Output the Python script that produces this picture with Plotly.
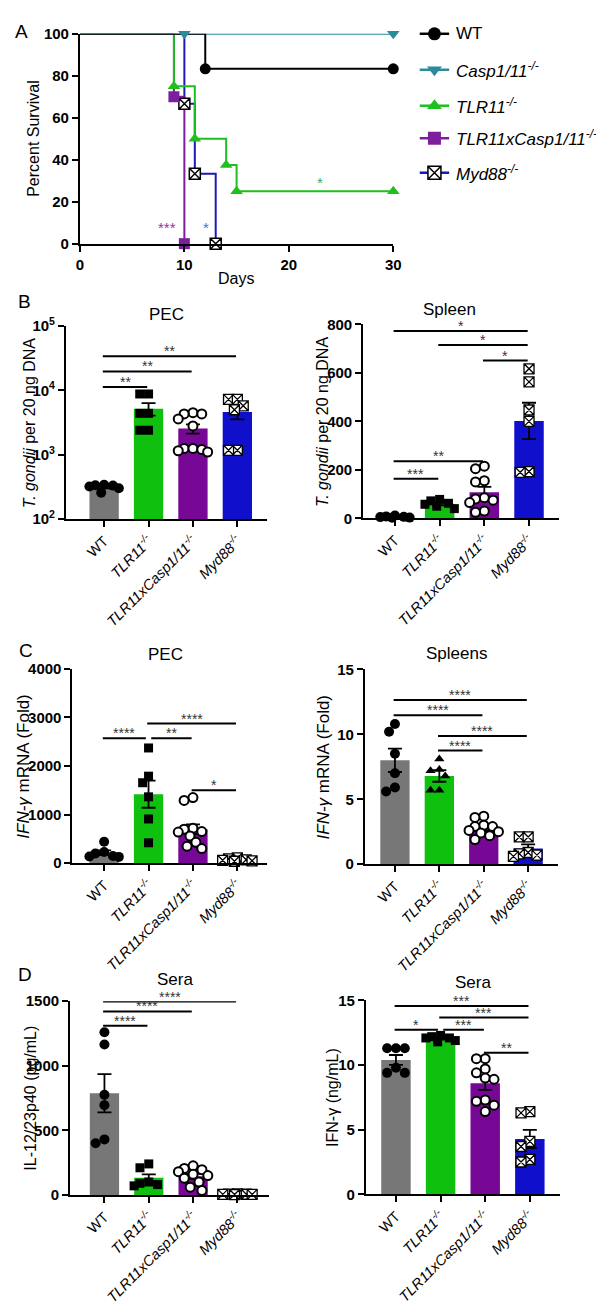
import numpy as np
import plotly.graph_objects as go

W, H = 604, 1304
FONT = "Liberation Sans, Arial, sans-serif"

# ---------------- Panel A: survival ----------------
surv_labels = ["WT", "<i>Casp1/11<sup>-/-</sup></i>", "<i>TLR11<sup>-/-</sup></i>",
               "<i>TLR11xCasp1/11<sup>-/-</sup></i>", "<i>Myd88<sup>-/-</sup></i>"]
surv_days = [[0, 12, 30], [0, 10, 30], [0, 9, 11, 14, 15, 30], [0, 9, 10], [0, 10, 11, 13]]
surv_pct = [[100, 83.3, 83.3], [100, 100, 100], [100, 75, 50, 37.5, 25, 25],
            [100, 70, 0], [100, 66.7, 33.3, 0]]
surv_stars = ["***", "*", "*"]
surv_star_day = [8.3, 12.1, 23.0]
surv_star_pct = [7.5, 7.5, 29.2]

# ---------------- bar panels (B, C, D) ----------------
bar_groups = ["WT", "<i>TLR11<sup>-/-</sup></i>", "<i>TLR11xCasp1/11<sup>-/-</sup></i>",
              "<i>Myd88<sup>-/-</sup></i>"]

pec_dna_pts = [[340, 335, 330, 320, 300, 255],
               [8800, 8800, 4400, 4400, 2400, 2400],
               [4500, 4300, 4300, 3600, 2800, 1250, 1250, 1200, 1150, 1100],
               [7250, 7250, 5760, 5000, 1170, 1170]]
pec_dna_mean = [313, 5200, 2550, 4600]
pec_dna_sem = [14, 1150, 420, 1050]
pec_dna_sig = [(0, 3, 33900, "**"), (0, 2, 19700, "**"), (0, 1, 11350, "**")]

spl_dna_pts = [[12, 8, 6, 5, 3, 2],
               [78, 72, 62, 58, 50, 40],
               [215, 205, 155, 150, 85, 80, 75, 65, 30, 25],
               [617, 563, 447, 400, 193, 190]]
spl_dna_mean = [6, 60, 108, 402]
spl_dna_sem = [1.5, 6, 22, 75]
spl_dna_sig = [(0, 3, 773, "*"), (1, 3, 715, "*"), (2, 3, 651, "*"),
               (0, 2, 236, "**"), (0, 1, 163, "***")]

pec_ifn_pts = [[440, 230, 200, 150, 140, 130],
               [2370, 1790, 1655, 1365, 910, 420],
               [1350, 1290, 720, 700, 650, 640, 560, 430, 350, 300],
               [110, 90, 70, 60, 50, 40]]
pec_ifn_mean = [215, 1420, 699, 70]
pec_ifn_sem = [50, 280, 100, 12]
pec_ifn_sig = [(1, 3, 2872, "****"), (0, 1, 2568, "****"), (1, 2, 2568, "**"),
               (2, 3, 1500, "*")]

spl_ifn_pts = [[10.8, 10.2, 8.5, 7.0, 5.9, 5.6],
               [8.1, 7.3, 7.2, 6.8, 5.7, 5.7],
               [3.7, 3.6, 3.0, 2.9, 2.9, 2.6, 2.5, 2.4, 2.2, 1.9],
               [2.1, 2.1, 0.9, 0.8, 0.7, 0.6]]
spl_ifn_mean = [8.0, 6.8, 2.77, 1.2]
spl_ifn_sem = [0.9, 0.45, 0.2, 0.33]
spl_ifn_sig = [(0, 3, 12.65, "****"), (0, 2, 11.46, "****"), (1, 3, 9.87, "****"),
               (1, 2, 8.75, "****")]

il12_pts = [[1260, 1165, 775, 695, 430, 400],
            [240, 210, 100, 90, 80, 70],
            [225, 205, 195, 180, 160, 150, 130, 100, 60, 35],
            [8, 6, 5, 4, 4, 3]]
il12_mean = [787, 132, 144, 5]
il12_sem = [148, 27, 20, 0.6]
il12_sig = [(0, 3, 1497, "****"), (0, 2, 1421, "****"), (0, 1, 1309, "****")]

ifn_sera_pts = [[11.3, 11.3, 11.3, 9.8, 9.4, 9.4],
                [12.3, 12.2, 12.1, 12.1, 11.9, 11.8],
                [10.5, 10.5, 9.7, 9.4, 9.0, 8.9, 7.3, 7.2, 6.9, 6.4],
                [6.4, 6.3, 4.1, 3.7, 2.7, 2.5]]
ifn_sera_mean = [10.4, 12.07, 8.6, 4.28]
ifn_sera_sem = [0.38, 0.1, 0.52, 0.7]
ifn_sera_sig = [(0, 3, 14.57, "***"), (1, 3, 13.68, "***"), (0, 1, 12.74, "*"),
                (1, 2, 12.74, "***"), (2, 3, 10.96, "**")]

bar_colors = ["#777777", "#0fc00f", "#770896", "#1010cc"]
pt_symbols = ["circle", "square", "circle", "square-x"]
pt_fill = ["black", "black", "white", "white"]
pt_line = [0, 0, 2, 1.3]
pt_size = [10, 9, 9, 10]

fig = go.Figure()
annotations = []
layout_axes = {}


def px(x):
    return x / W


def py(y):
    return 1 - y / H


def label(x, y, text, size, angle=0, xanchor="center", **kw):
    annotations.append(dict(x=px(x), y=py(y), xref="paper", yref="paper", text=text,
                            textangle=angle, xanchor=xanchor, yanchor="middle",
                            showarrow=False, font=dict(size=size, **kw)))


def ax_common():
    return dict(showline=True, linewidth=2, linecolor="black", ticks="outside",
                ticklen=6, tickwidth=2, tickcolor="black", showgrid=False,
                zeroline=False, fixedrange=True)


# ---- Panel A ----
a_line = ["black", "#2b8a9c", "#1fbf1f", "#7b1f9c", "#1a1ab4"]
a_sym = ["circle", "triangle-down", "triangle-up", "square", "square-x"]
a_fill = ["black", "#2b8a9c", "#1fbf1f", "#7b1f9c", "white"]
a_mline = [0, 0, 0, 0, 1.5]
a_order = [4, 3, 2, 1, 0]
for i in a_order:
    fig.add_trace(go.Scatter(x=surv_days[i], y=surv_pct[i], mode="lines",
                             line=dict(color=a_line[i], width=2, shape="hv"),
                             xaxis="x", yaxis="y", hoverinfo="skip"))
for i in a_order:
    fig.add_trace(go.Scatter(x=surv_days[i][1:], y=surv_pct[i][1:], mode="markers",
                             marker=dict(symbol=a_sym[i], size=11, color=a_fill[i],
                                         line=dict(color="black", width=a_mline[i])),
                             cliponaxis=False, xaxis="x", yaxis="y", hoverinfo="skip"))
star_cols = ["#8a3aa8", "#3a78d0", "#30b060"]
for s, d, p, c in zip(surv_stars, surv_star_day, surv_star_pct, star_cols):
    annotations.append(dict(x=d, y=p, xref="x", yref="y", text=s, showarrow=False,
                            font=dict(size=15, color=c)))
layout_axes["xaxis"] = dict(ax_common(), domain=[px(69.3), px(389)], range=[0, 30],
                            tickvals=[0, 10, 20, 30], anchor="y",
                            tickfont=dict(size=15, weight="bold"))
layout_axes["yaxis"] = dict(ax_common(), domain=[py(228), py(15)], range=[0, 100],
                            tickvals=[0, 20, 40, 60, 80, 100], anchor="x",
                            tickfont=dict(size=15, weight="bold"))
label(229, 263, "Days", 16)
label(22, 121, "Percent Survival", 16, angle=-90)

# legend for A, drawn on a pixel overlay axis
leg_x0, leg_x1 = 416, 446
leg_rows = [15, 51.5, 88, 121, 156]
for i in range(5):
    ly = leg_rows[i]
    fig.add_trace(go.Scatter(x=[leg_x0, leg_x1], y=[ly, ly], mode="lines",
                             line=dict(color=a_line[i], width=2.5),
                             xaxis="x8", yaxis="y8", hoverinfo="skip"))
    fig.add_trace(go.Scatter(x=[(leg_x0 + leg_x1) / 2], y=[ly], mode="markers",
                             marker=dict(symbol=a_sym[i], size=13, color=a_fill[i],
                                         line=dict(color="black", width=a_mline[i])),
                             xaxis="x8", yaxis="y8", hoverinfo="skip"))
    label(451, ly, surv_labels[i], 17, xanchor="left")
layout_axes["xaxis8"] = dict(domain=[0, 1], range=[0, W], visible=False, anchor="y8",
                             fixedrange=True)
layout_axes["yaxis8"] = dict(domain=[0, 1], range=[H, 0], visible=False, anchor="x8",
                             fixedrange=True)


def swarm(vals, ypix, d=8.6):
    order = np.argsort(vals)[::-1]
    cands = [0.0]
    for k in range(1, 6):
        cands += [-3.0 * k, 3.0 * k]
    placed = []
    offs = [0.0] * len(vals)
    for i in order:
        y = ypix(vals[i])
        best = None
        for c in cands:
            if all((c - a) ** 2 + (y - b) ** 2 >= d * d for a, b in placed):
                best = c
                break
        if best is None:
            best = max(cands, key=lambda c: min((c - a) ** 2 + (y - b) ** 2 for a, b in placed))
        placed.append((best, y))
        offs[i] = best
    return offs


def bar_panel(n, box, xr, yr, ylog, ytv, yttext, pts, means, sems, sig,
              title, title_xy, ytitle, ytitle_x, ytitle_size=16):
    x0, x1, ytop, ybot = box
    xa, ya = "x%d" % n, "y%d" % n
    hpx = ybot - ytop
    pcat = (x1 - x0) / (xr[1] - xr[0])

    def ypix(v):
        t = np.log10(v) if ylog else v
        return (t - yr[0]) / (yr[1] - yr[0]) * hpx

    fig.add_trace(go.Bar(x=[0, 1, 2, 3], y=means, width=0.66,
                         marker=dict(color=bar_colors, line=dict(width=0)),
                         error_y=dict(type="data", array=sems, color="black",
                                      thickness=1.8, width=7),
                         xaxis=xa, yaxis=ya, hoverinfo="skip"))
    for g in range(4):
        offs = swarm(pts[g], ypix)
        xs = [g + o / pcat for o in offs]
        sym = pt_symbols[g]
        if n == 5 and g == 1:
            sym = "triangle-up"
        fig.add_trace(go.Scatter(x=xs, y=pts[g], mode="markers", cliponaxis=False,
                                 marker=dict(symbol=sym, size=pt_size[g], color=pt_fill[g],
                                             line=dict(color="black", width=pt_line[g])),
                                 xaxis=xa, yaxis=ya, hoverinfo="skip"))
    for (i, j, v, s) in sig:
        same = [(a, b) for (a, b, w, _) in sig if abs(w - v) < 1e-9 and (a, b) != (i, j)]
        st = i + (0.06 if any(b == i for a, b in same) else -0.03)
        en = j - (0.06 if any(a == j for a, b in same) else 0.03)
        fig.add_trace(go.Scatter(x=[st, en], y=[v, v], mode="lines",
                                 line=dict(color="black", width=2), cliponaxis=False,
                                 xaxis=xa, yaxis=ya, hoverinfo="skip"))
        annotations.append(dict(x=(st + en) / 2, y=np.log10(v) if ylog else v,
                                xref=xa, yref=ya, text=s, showarrow=False,
                                xanchor="center", yanchor="middle", yshift=5,
                                font=dict(size=14, color="#333333")))
    layout_axes["xaxis%d" % n] = dict(ax_common(), domain=[px(x0), px(x1)], range=xr,
                                      tickvals=[0, 1, 2, 3], ticktext=bar_groups,
                                      tickangle=-45, anchor=ya,
                                      tickfont=dict(size=14.5))
    yax = dict(ax_common(), domain=[py(ybot), py(ytop)], range=yr, tickvals=ytv,
               anchor=xa, tickfont=dict(size=15, weight="bold"))
    if ylog:
        yax["type"] = "log"
    if yttext is not None:
        yax["ticktext"] = yttext
    layout_axes["yaxis%d" % n] = yax
    label(title_xy[0], title_xy[1], title, 17)
    label(ytitle_x, (ytop + ybot) / 2, ytitle, ytitle_size, angle=-90)


dna_title = "<i>T. gondii</i> per 20 ng DNA"
bar_panel(2, (55, 260, 311.7, 507.3), [-0.861, 3.664], [2, 5], True,
          [100, 1000, 10000, 100000],
          ["10<sup>2</sup>", "10<sup>3</sup>", "10<sup>4</sup>", "10<sup>5</sup>"],
          pec_dna_pts, pec_dna_mean, pec_dna_sem, pec_dna_sig,
          "PEC", (158, 300), dna_title, 18)
bar_panel(3, (358.3, 558, 310, 506.7), [-0.711, 3.669], [0, 800], False,
          [0, 200, 400, 600, 800], None,
          spl_dna_pts, spl_dna_mean, spl_dna_sem, spl_dna_sig,
          "Spleen", (446.7, 295), dna_title, 317)
bar_panel(4, (61.7, 260, 659.3, 856.7), [-0.713, 3.664], [0, 4000], False,
          [0, 1000, 2000, 3000, 4000], None,
          pec_ifn_pts, pec_ifn_mean, pec_ifn_sem, pec_ifn_sig,
          "PEC", (157, 645), "<i>IFN-γ</i> mRNA (Fold)", 12, 17)
bar_panel(5, (360, 557, 660, 857.7), [-0.678, 3.671], [0, 15], False,
          [0, 5, 10, 15], None,
          spl_ifn_pts, spl_ifn_mean, spl_ifn_sem, spl_ifn_sig,
          "Spleens", (454, 644), "<i>IFN-γ</i> mRNA (Fold)", 318, 17)
bar_panel(6, (59.3, 261.7, 996.7, 1193.3), [-0.774, 3.70], [0, 1500], False,
          [0, 500, 1000, 1500], None,
          il12_pts, il12_mean, il12_sem, il12_sig,
          "Sera", (166.7, 975), "IL-12/23p40 (pg/mL)", 18)
bar_panel(7, (361, 559.3, 996, 1192.7), [-0.675, 3.68], [0, 15], False,
          [0, 5, 10, 15], None,
          ifn_sera_pts, ifn_sera_mean, ifn_sera_sem, ifn_sera_sig,
          "Sera", (470, 978), "IFN-γ (ng/mL)", 327)

for letter, lx, ly in [("A", 10, 13), ("B", 13, 287), ("C", 14, 641), ("D", 13, 970)]:
    label(lx, ly, letter, 19)

fig.update_layout(width=W, height=H, margin=dict(l=0, r=0, t=0, b=0),
                  paper_bgcolor="white", plot_bgcolor="rgba(0,0,0,0)", showlegend=False,
                  font=dict(family=FONT, color="black"), annotations=annotations,
                  **layout_axes)
fig.write_html("out.html")
